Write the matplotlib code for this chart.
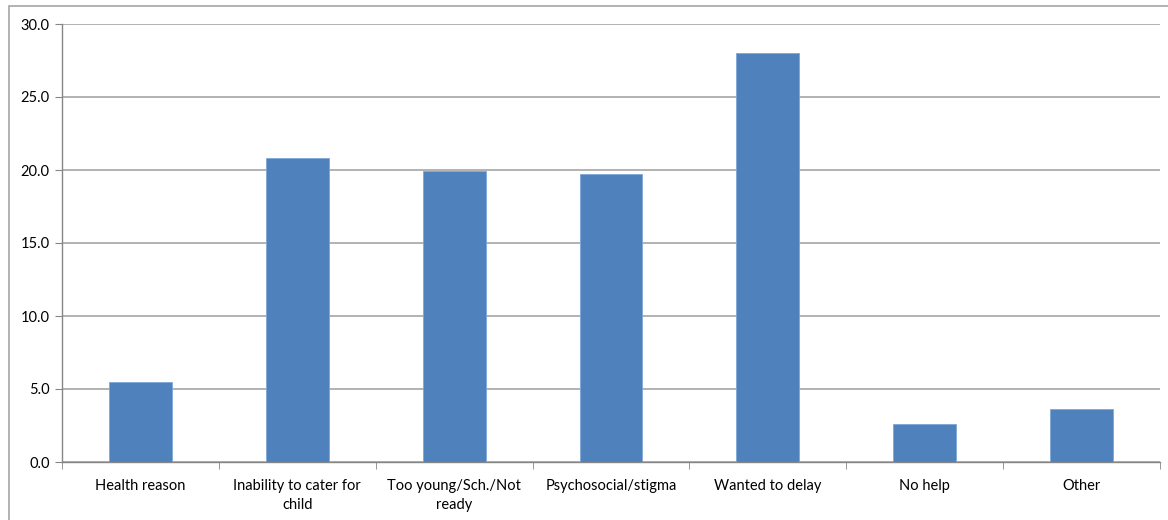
import numpy as np
import matplotlib
matplotlib.use('Agg')
from matplotlib import pyplot as plt
from matplotlib.patches import Rectangle

categories = ['Health reason', 'Inability to cater for\nchild', 'Too young/Sch./Not\nready',
              'Psychosocial/stigma', 'Wanted to delay', 'No help', 'Other']
values = [5.5, 20.8, 19.9, 19.7, 28.0, 2.6, 3.6]
yticks = [0, 5, 10, 15, 20, 25, 30]

BAR_COLOR = '#4F81BD'
GRID_COLOR = '#A6A6A6'

plt.rcParams['font.family'] = ['Lato', 'DejaVu Sans']

fig = plt.figure(figsize=(11.68, 5.2), dpi=100)
ax = fig.add_axes([62 / 1168, 58 / 520, 1098 / 1168, 438 / 520])

# outer chart frame (cut off on the right and bottom)
fig.patches.append(Rectangle((9 / 1168, -0.1), 1.2, 1 - 6 / 520 + 0.1,
                             transform=fig.transFigure, fill=False,
                             edgecolor='#A6A6A6', linewidth=1.2))

x = np.arange(len(categories))
ax.bar(x, values, width=0.4, color=BAR_COLOR, edgecolor='#7EA6D8',
       linewidth=0.6, zorder=3)

ax.set_xlim(-0.5, len(categories) - 0.5)
ax.set_ylim(0, 30)
ax.set_yticks(yticks)
ax.set_yticklabels([f'{v:.1f}' for v in yticks], fontsize=10.5)
ax.yaxis.grid(True, color=GRID_COLOR, linewidth=1.2, zorder=0)

# category labels centred under bars, ticks at category boundaries
ax.set_xticks(x)
ax.set_xticklabels(categories, fontsize=10.5, linespacing=1.45)
ax.tick_params(axis='x', length=0, pad=12)
ax.set_xticks(np.arange(-0.5, len(categories)), minor=True)
ax.tick_params(axis='x', which='minor', length=5, color='#868686', direction='out')
ax.tick_params(axis='y', length=5, color='#868686', pad=4)

for side in ['top', 'right']:
    ax.spines[side].set_visible(False)
for side in ['left', 'bottom']:
    ax.spines[side].set_color('#868686')
    ax.spines[side].set_linewidth(1.0)

fig.savefig('out.png', dpi=100)
